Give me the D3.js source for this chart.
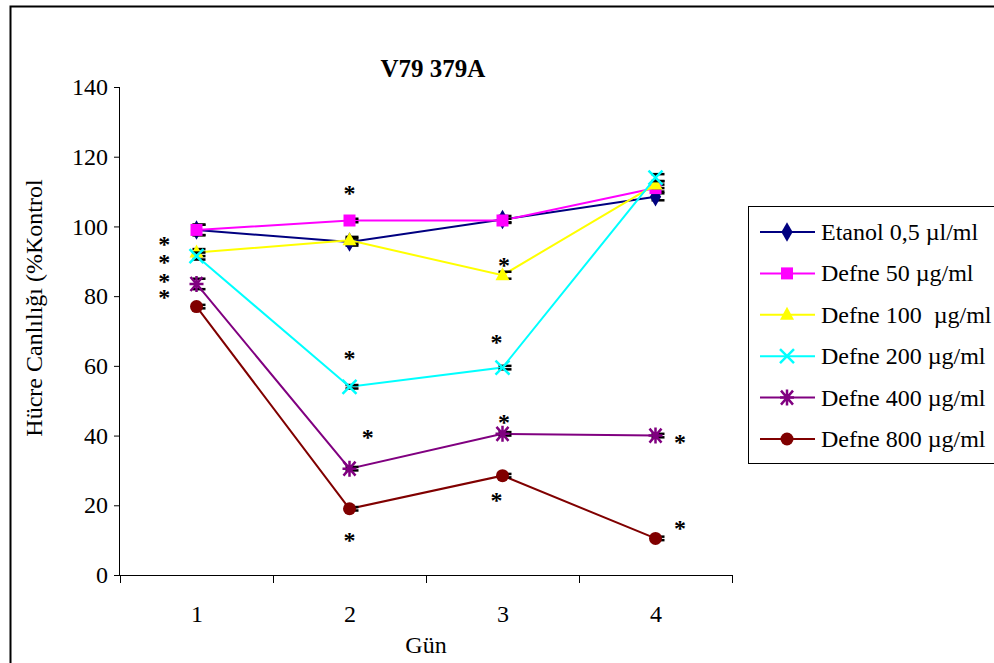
<!DOCTYPE html>
<html>
<head>
<meta charset="utf-8">
<script src="https://cdn.jsdelivr.net/npm/d3@7"></script>
<style>
  body { margin: 0; background: #fff; }
  svg text { font-family: "Liberation Serif", "Times New Roman", serif; fill: #000; }
</style>
</head>
<body>
<div id="chart"></div>
<script>
// gün (days)
var days = [1, 2, 3, 4];

// series values (% kontrol)
var etanol    = [99, 95.5, 102, 108.5];
var defne50   = [99, 101.7, 101.7, 111];
var defne100  = [92.5, 96, 86, 112];
var defne200  = [91.5, 54, 59.5, 114];
var defne400  = [83.5, 30.5, 40.5, 40];
var defne800  = [77, 19, 28.5, 10.5];

// small error values
var errEtanol = [1.5, 1, 1, 1];
var err50     = [1.5, 0.5, 0.5, 1];
var err100    = [1, 1, 1, 1];
var err200    = [1, 0.5, 0.5, 1];
var err400    = [1.5, 0.5, 0.5, 0.5];
var err800    = [0.5, 0.5, 0.5, 0.5];

var seriesNames = ["Etanol 0,5 \u00b5l/ml", "Defne 50 \u00b5g/ml", "Defne 100  \u00b5g/ml",
                   "Defne 200 \u00b5g/ml", "Defne 400 \u00b5g/ml", "Defne 800 \u00b5g/ml"];
var seriesColors = ["#000080", "#ff00ff", "#ffff00", "#00ffff", "#800080", "#800000"];
var seriesMarkers = ["diamond", "square", "triangle", "cross", "star", "circle"];

// significance asterisks: [day position, value]
var starDay = [0.79, 0.79, 0.79, 0.79, 2, 2, 2.12, 2, 3.01, 2.96, 3.01, 2.96, 4.16, 4.16];
var starVal = [95.5, 90.3, 84.8, 80.2, 110.3, 62.8, 40.3, 10.6, 89.6, 67.5, 44.6, 22.2, 38.6, 14.2];

var yTicks = [0, 20, 40, 60, 80, 100, 120, 140];

var series = [
  {name: seriesNames[0], values: etanol,   err: errEtanol},
  {name: seriesNames[1], values: defne50,  err: err50},
  {name: seriesNames[2], values: defne100, err: err100},
  {name: seriesNames[3], values: defne200, err: err200},
  {name: seriesNames[4], values: defne400, err: err400},
  {name: seriesNames[5], values: defne800, err: err800}
];
series.forEach(function(s, i){ s.color = seriesColors[i]; s.marker = seriesMarkers[i]; });

var W = 994, H = 663;
var FS = "24px";
var svg = d3.select("#chart").append("svg").attr("width", W).attr("height", H);

// outer chart border
svg.append("rect").attr("x", 10.5).attr("y", 6.5).attr("width", 1000).attr("height", 700)
  .style("fill", "none").style("stroke", "#000").style("stroke-width", 2);

var x = d3.scaleLinear().domain([0.5, 4.5]).range([120, 732]);
var y = d3.scaleLinear().domain([0, 140]).range([575, 87]);

// axes
svg.append("g").attr("transform", "translate(120,0)")
  .call(d3.axisLeft(y).tickValues(yTicks).tickSize(6).tickPadding(6))
  .call(function(g){
    g.select(".domain").attr("d", "M-0.5," + y(140) + "V" + y(0)).style("stroke", "#000");
    g.selectAll("text").style("font-size", FS).attr("font-family", "Liberation Serif");
  });

svg.append("g").attr("transform", "translate(0,575)")
  .call(d3.axisBottom(x).tickValues([0.5, 1.5, 2.5, 3.5, 4.5]).tickFormat("").tickSize(8))
  .call(function(g){ g.select(".domain").attr("d", "M" + x(0.5) + ",0.5H" + x(4.5)).style("stroke", "#000"); });

svg.append("g").attr("transform", "translate(0,575)")
  .call(d3.axisBottom(x).tickValues(days).tickFormat(d3.format("d")).tickSize(0).tickPadding(30))
  .call(function(g){
    g.select(".domain").remove();
    g.selectAll("text").style("font-size", FS).attr("font-family", "Liberation Serif");
  });

// title and axis labels
svg.append("text").attr("x", 433).attr("y", 77).attr("text-anchor", "middle")
  .style("font-size", "25px").style("font-weight", "bold").text("V79 379A");
svg.append("text").attr("x", 426).attr("y", 653).attr("text-anchor", "middle")
  .style("font-size", FS).text("G\u00fcn");
svg.append("text").attr("transform", "translate(42,308) rotate(-90)").attr("text-anchor", "middle")
  .style("font-size", FS).text("H\u00fccre Canl\u0131l\u0131\u011f\u0131 (%Kontrol");

var line = d3.line().x(function(d, i){ return x(days[i]); }).y(function(d){ return y(d); });

function markerPath(type) {
  if (type === "diamond") return d3.symbol(d3.symbolDiamond, 110)();
  if (type === "square") return "M-6,-6H6V6H-6Z";
  if (type === "triangle") return "M0,-8L7,5H-7Z";
  if (type === "cross") return "M-7,-7L7,7M7,-7L-7,7";
  if (type === "star") return "M-6,-7L6,7M6,-7L-6,7M-7,0H7M0,-8V8";
  return null;
}
function drawMarker(g, s, cx, cy) {
  if (s.marker === "circle") {
    g.append("circle").attr("cx", cx).attr("cy", cy).attr("r", 6.5).style("fill", s.color);
  } else if (s.marker === "cross" || s.marker === "star") {
    g.append("path").attr("d", markerPath(s.marker)).attr("transform", "translate(" + cx + "," + cy + ")")
      .style("fill", "none").style("stroke", s.color).style("stroke-width", 2.5);
  } else {
    g.append("path").attr("d", markerPath(s.marker)).attr("transform", "translate(" + cx + "," + cy + ")")
      .style("fill", s.color);
  }
}

var plot = svg.append("g");
series.forEach(function(s){
  var g = plot.append("g");
  g.append("path").datum(s.values).attr("d", line)
    .style("fill", "none").style("stroke", s.color).style("stroke-width", 2);
  // error bars
  s.values.forEach(function(v, i){
    var cx = x(days[i]);
    [v + s.err[i], v - s.err[i]].forEach(function(e){
      g.append("line").attr("x1", cx - 4).attr("x2", cx + 9).attr("y1", y(e)).attr("y2", y(e))
        .style("stroke", "#000").style("stroke-width", 2.5);
    });
    g.append("line").attr("x1", cx).attr("x2", cx).attr("y1", y(v + s.err[i])).attr("y2", y(v - s.err[i]))
      .style("stroke", "#000").style("stroke-width", 1);
  });
  s.values.forEach(function(v, i){ drawMarker(g, s, x(days[i]), y(v)); });
});

// asterisks: one text per column, each star a tspan
var starCols = d3.groups(d3.range(starDay.length), function(i){ return starDay[i]; });
starCols.forEach(function(col){
  var t = plot.append("text").attr("text-anchor", "middle")
    .style("font-size", FS).style("font-weight", "bold");
  col[1].forEach(function(i){
    t.append("tspan").attr("x", x(starDay[i])).attr("y", y(starVal[i]) + 10).text("*");
  });
});

// legend
var lg = svg.append("g").attr("transform", "translate(748,206)");
lg.append("rect").attr("x", 0.5).attr("y", 0.5).attr("width", 300).attr("height", 257)
  .style("fill", "#fff").style("stroke", "#000").style("stroke-width", 1);
series.forEach(function(s, i){
  var yy = 26 + i * 41.4;
  var row = lg.append("g");
  row.append("line").attr("x1", 12).attr("x2", 67).attr("y1", yy).attr("y2", yy)
    .style("stroke", s.color).style("stroke-width", 2);
  drawMarker(row, s, 39, yy);
  row.append("text").attr("x", 73).attr("y", yy + 8).style("font-size", FS)
    .style("white-space", "pre").text(s.name);
});
</script>
</body>
</html>
